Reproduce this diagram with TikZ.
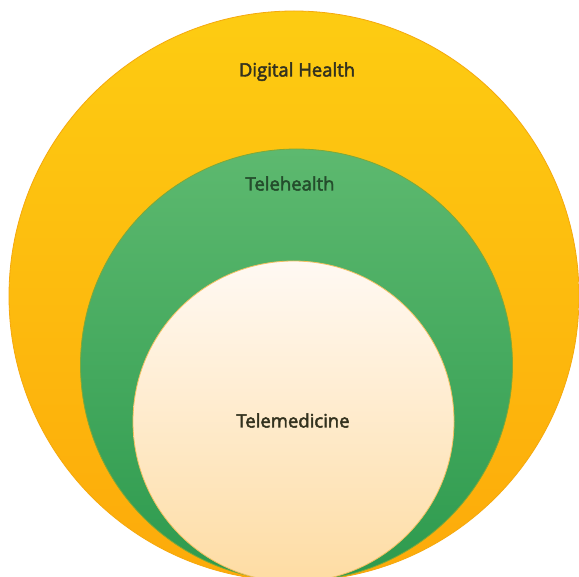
\documentclass[tikz,border=0pt]{standalone}
\usepackage{fontspec}
\setmainfont{Open Sans}
\newfontfamily\lblfont{Open Sans}[FakeBold=2.5]
\definecolor{ytop}{HTML}{FDCC12}
\definecolor{ybot}{HTML}{FDAA0A}
\definecolor{ystroke}{HTML}{F5A90E}
\definecolor{gtop}{HTML}{5DB96F}
\definecolor{gbot}{HTML}{2D9A4E}
\definecolor{gstroke}{HTML}{7FA838}
\definecolor{ctop}{HTML}{FFF9F3}
\definecolor{cbot}{HTML}{FEDCA3}
\definecolor{cstroke}{HTML}{F2C060}
\definecolor{txt}{HTML}{33321F}
\definecolor{gtxt}{HTML}{244D2C}
\tikzset{
  ring/.style={circle, inner sep=0pt, line width=0.8pt},
  lbl/.style={font=\lblfont\fontsize{18.5}{21}\selectfont, inner sep=0pt, anchor=base}
}
\begin{document}
\begin{tikzpicture}[x=1pt,y=-1pt]
\useasboundingbox (0,0) rectangle (579,577);
\clip (0,0) rectangle (579,577);
\fill[white] (0,0) rectangle (579,577);
\node[ring, minimum size=570pt, draw=ystroke, top color=ytop, bottom color=ybot] (outer) at (294,296) {};
\node[ring, minimum size=432pt, draw=gstroke, top color=gtop, bottom color=gbot] (mid) at (296.5,365) {};
\node[ring, minimum size=321pt, draw=cstroke, top color=ctop, bottom color=cbot] (inner) at (293.5,421.5) {};
\node[lbl, text=txt] (dh) at (297,76.5) {Digital Health};
\node[lbl, text=gtxt] (th) at (290,190.5) {Telehealth};
\node[lbl, text=txt] (tm) at (293,427.5) {Telemedicine};
\end{tikzpicture}
\end{document}
